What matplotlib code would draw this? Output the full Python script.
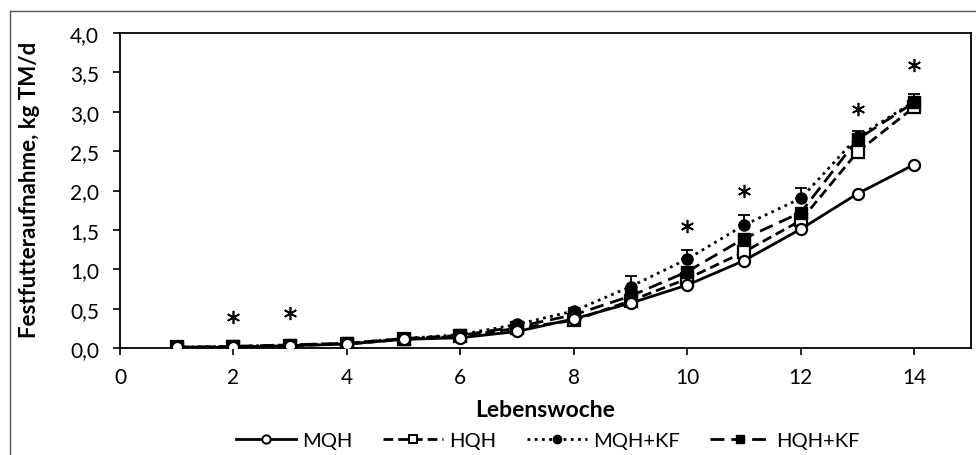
import matplotlib
matplotlib.use("Agg")
import matplotlib.pyplot as plt
from matplotlib.ticker import FuncFormatter, MultipleLocator
from matplotlib.lines import Line2D

weeks = [1, 2, 3, 4, 5, 6, 7, 8, 9, 10, 11, 12, 13, 14]
mqh = [0.01, 0.01, 0.03, 0.05, 0.11, 0.13, 0.21, 0.37, 0.57, 0.80, 1.11, 1.51, 1.96, 2.33]
hqh = [0.01, 0.01, 0.03, 0.05, 0.11, 0.15, 0.25, 0.35, 0.60, 0.88, 1.22, 1.62, 2.49, 3.06]
mqh_kf = [0.01, 0.02, 0.04, 0.06, 0.12, 0.17, 0.30, 0.47, 0.78, 1.13, 1.56, 1.90, 2.68, 3.13]
mqh_kf_err = [0.01, 0.01, 0.01, 0.02, 0.02, 0.03, 0.03, 0.04, 0.13, 0.12, 0.13, 0.13, 0.08, 0.10]
hqh_kf = [0.01, 0.02, 0.04, 0.06, 0.12, 0.16, 0.27, 0.42, 0.66, 0.97, 1.39, 1.72, 2.65, 3.12]
star_weeks = [2, 3, 10, 11, 13, 14]
star_y = [0.39, 0.45, 1.55, 2.00, 3.03, 3.60]
labels = ["MQH", "HQH", "MQH+KF", "HQH+KF"]

plt.rcParams['font.family'] = ['Lato', 'DejaVu Sans']

fig = plt.figure(figsize=(9.76, 4.56), dpi=100)
ax = fig.add_axes([120/976, 1-349/456, (971-120)/976, (349-34)/456])

lw = 2.0
ms = 8
h1, = ax.plot(weeks, mqh, '-', color='black', lw=lw, marker='o', ms=ms,
              mfc='white', mec='black', mew=1.6, zorder=5)
h2, = ax.plot(weeks, hqh, color='black', lw=lw, ls=(0, (3.5, 1.8)), marker='s', ms=ms,
              mfc='white', mec='black', mew=1.6, zorder=4)
ax.errorbar(weeks, mqh_kf, yerr=[[0]*len(weeks), mqh_kf_err], fmt='none',
            ecolor='black', elinewidth=1.3, capsize=4.5, capthick=1.3, zorder=3)
h3, = ax.plot(weeks, mqh_kf, color='black', lw=lw, ls=(0, (1, 1.6)), marker='o', ms=ms,
              mfc='black', mec='black', zorder=3)
h4, = ax.plot(weeks, hqh_kf, color='black', lw=lw, ls=(0, (5, 2.5)), marker='s', ms=ms,
              mfc='black', mec='black', zorder=4)

# significance asterisks
ax.plot(star_weeks, star_y, ls='none', marker=(6, 2, 0), ms=9.5, mew=1.2,
        color='black', zorder=6)

ax.set_xlim(0, 15)
ax.set_ylim(0, 4.0)
ax.set_xticks([0, 2, 4, 6, 8, 10, 12, 14])
ax.yaxis.set_major_locator(MultipleLocator(0.5))
ax.yaxis.set_major_formatter(FuncFormatter(lambda v, p: f"{v:.1f}".replace('.', ',')))
ax.tick_params(axis='both', direction='out', length=5, width=1.2, labelsize=15, colors='black')
ax.tick_params(axis='x', pad=9)
ax.tick_params(axis='y', pad=10)
for s in ax.spines.values():
    s.set_linewidth(1.3)
    s.set_color('black')

ax.set_xlabel("Lebenswoche", fontsize=16.5, fontweight='bold', va='center')
ax.xaxis.set_label_coords(0.5, (349-411)/315)
ax.set_ylabel("Festfutteraufnahme, kg TM/d", fontsize=16, fontweight='bold', va='center')
ax.yaxis.set_label_coords((30-120)/851, 0.505)

leg_handles = [
    Line2D([], [], color='black', lw=lw, marker='o', ms=6, mfc='white', mew=1.4),
    Line2D([], [], color='black', lw=lw, ls=(0, (3.5, 1.8)), marker='s', ms=6, mfc='white', mew=1.4),
    Line2D([], [], color='black', lw=lw, ls=(0, (1, 1.6)), marker='o', ms=6, mfc='black'),
    Line2D([], [], color='black', lw=lw, ls=(0, (5, 2.5)), marker='s', ms=6, mfc='black'),
]
fig.legend(leg_handles, labels, loc='center', bbox_to_anchor=(548/976, 1-441/456),
           ncol=4, frameon=False, fontsize=14.5, handlelength=3.0, columnspacing=1.5,
           handletextpad=0.3, borderpad=0)

# outer chart border (top and left visible)
fig.add_artist(Line2D([10/976, 1], [1-11.5/456, 1-11.5/456], transform=fig.transFigure,
                      color='#555555', lw=1.0))
fig.add_artist(Line2D([10/976, 10/976], [0, 1-11.5/456], transform=fig.transFigure,
                      color='#555555', lw=1.0))

fig.savefig("out.png", dpi=100)
